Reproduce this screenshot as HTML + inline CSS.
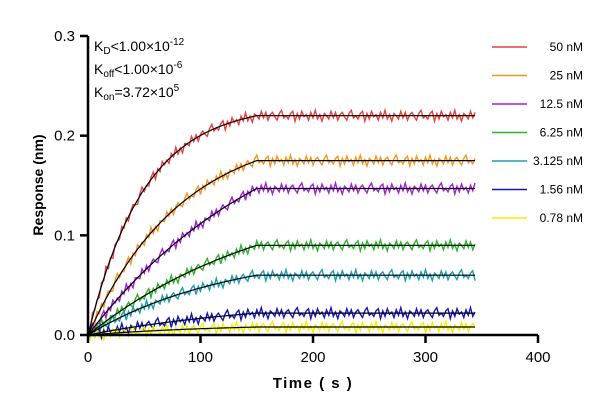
<!DOCTYPE html>
<html><head><meta charset="utf-8"><style>
body{margin:0;background:#fff}
svg{font-family:"Liberation Sans",Arial,sans-serif}
</style></head><body>
<svg id="chart" width="615" height="412" viewBox="0 0 615 412" xmlns="http://www.w3.org/2000/svg">
<g id="series"></g>
<g id="axes"></g>
<g id="legend"></g>
<g font-size="14" fill="#000">
<text x="94" y="51">K<tspan font-size="10" dy="3">D</tspan><tspan dy="-3">&lt;1.00×10</tspan><tspan font-size="10" dy="-6">-12</tspan></text>
<text x="94" y="74">K<tspan font-size="10" dy="3">off</tspan><tspan dy="-3">&lt;1.00×10</tspan><tspan font-size="10" dy="-6">-6</tspan></text>
<text x="94" y="97">K<tspan font-size="10" dy="3">on</tspan><tspan dy="-3">=3.72×10</tspan><tspan font-size="10" dy="-6">5</tspan></text>
</g>
<text x="313" y="388" text-anchor="middle" font-size="15" font-weight="bold" letter-spacing="1.5">Time ( s )</text>
<text transform="translate(43,185) rotate(-90)" text-anchor="middle" font-size="14" font-weight="bold">Response (nm)</text>
</svg>
<script>
const concentrations = ["50 nM","25 nM","12.5 nM","6.25 nM","3.125 nM","1.56 nM","0.78 nM"];
const plateaus = [0.220,0.175,0.147,0.090,0.060,0.022,0.008];
const rates = [0.020,0.012,0.006,0.006,0.008,0.006,0.008];
const colors = ["#e8403f","#f7941d","#a51fd6","#2cb52c","#1b9fb0","#1414c0","#f2f200"];
const noisePattern = [0.002,-0.003,0.004,-0.001,0.001,-0.004,0.003,-0.002,0.005,-0.003,0.001,-0.005,0.002,0.000,-0.003,0.004,-0.002,0.003,-0.004,0.001,0.003,-0.001,-0.004,0.002,0.005,-0.002,0.000,-0.003,0.002,0.004,-0.005];
const xTicks = [0,100,200,300,400];
const yTicks = [0,0.1,0.2,0.3];
const yTickLabels = ["0.0","0.1","0.2","0.3"];
const assocEnd = 150, runEnd = 345;

const NS="http://www.w3.org/2000/svg";
const X = v => 88 + v*(450/400);
const Y = v => 335 - v*(299/0.3);
function mk(tag, attrs, parent){const e=document.createElementNS(NS,tag);for(const k in attrs)e.setAttribute(k,attrs[k]);parent.appendChild(e);return e;}
function fit(i,t){const k=rates[i];const tt=Math.min(t,assocEnd);return plateaus[i]*(1-Math.exp(-k*tt))/(1-Math.exp(-k*assocEnd));}
const sg=document.getElementById('series');
for(let i=0;i<concentrations.length;i++){
  let d="";
  for(let t=0,j=0;t<=runEnd;t+=2,j++){
    const v=fit(i,t)+(t>0?noisePattern[(j+i*11)%noisePattern.length]*1.1:0);
    d+=(j?"L":"M")+X(t).toFixed(1)+","+Y(v).toFixed(1);
  }
  const p=mk('path',{d:d,fill:"none",stroke:colors[i],"stroke-width":1.4},sg);
  
  
}
for(let i=0;i<concentrations.length;i++){
  let d="";
  for(let t=0,j=0;t<=runEnd;t+=2,j++){d+=(j?"L":"M")+X(t).toFixed(1)+","+Y(fit(i,t)).toFixed(1);}
  const p=mk('path',{d:d,fill:"none",stroke:"#000","stroke-width":1.2},sg);
  
  
}
const ag=document.getElementById('axes');
let a=mk('line',{x1:88,y1:Y(0),x2:X(400),y2:Y(0),stroke:"#000","stroke-width":2.5},ag);

a=mk('line',{x1:88,y1:Y(0)+1,x2:88,y2:Y(0.3),stroke:"#000","stroke-width":2.5},ag);

xTicks.forEach(v=>{
  const l=mk('line',{x1:X(v),y1:Y(0),x2:X(v),y2:Y(0)+8,stroke:"#000","stroke-width":2.5},ag);
  
  const t=mk('text',{x:X(v),y:Y(0)+27,"text-anchor":"middle","font-size":15},ag);t.textContent=v;
  
});
yTicks.forEach((v,i)=>{
  const l=mk('line',{x1:80,y1:Y(v),x2:88,y2:Y(v),stroke:"#000","stroke-width":2.5},ag);
  
  const t=mk('text',{x:75,y:Y(v)+5,"text-anchor":"end","font-size":15},ag);t.textContent=yTickLabels[i];
  
});
const lg=document.getElementById('legend');
concentrations.forEach((c,i)=>{
  const y=47+28.5*i;
  const l=mk('line',{x1:492,y1:y,x2:527,y2:y,stroke:colors[i],"stroke-width":1.5},lg);
  
  const t=mk('text',{x:583,y:y+4,"text-anchor":"end","font-size":12},lg);t.textContent=c;
  
});
</script>
</body></html>
